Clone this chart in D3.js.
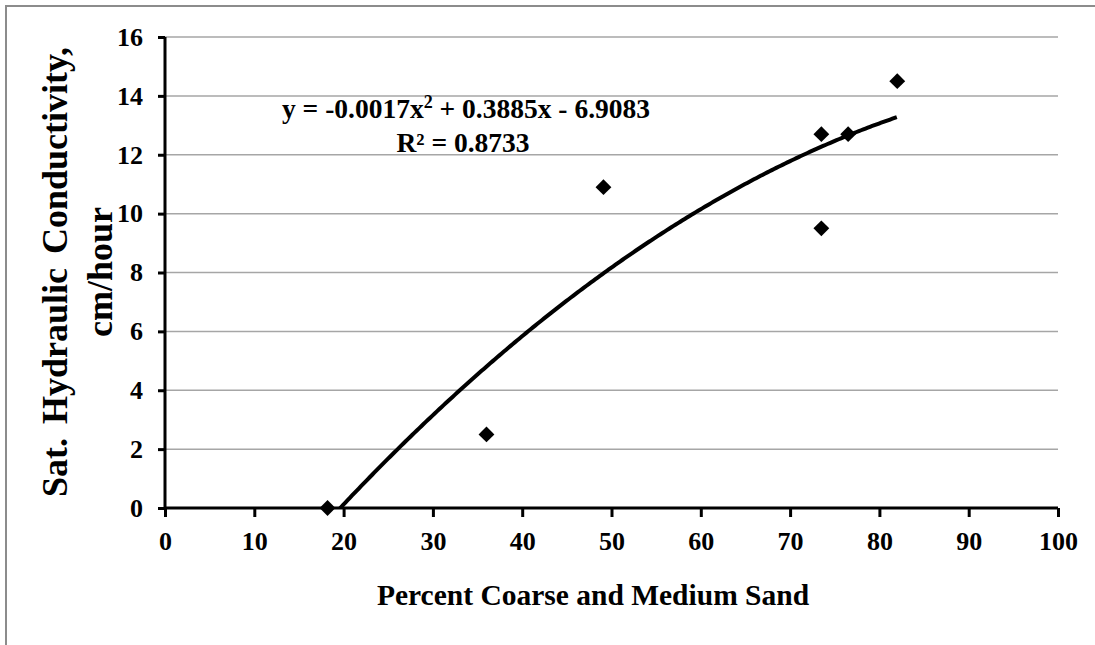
<!DOCTYPE html>
<html>
<head>
<meta charset="utf-8">
<script src="https://cdn.jsdelivr.net/npm/d3@7"></script>
<style>
  body { margin: 0; background: #fff; }
  svg { display: block; font-family: "Liberation Serif", "Times New Roman", serif; }
</style>
</head>
<body>
<svg id="chart" width="1095" height="645"></svg>
<script>
// percent coarse + medium sand vs sat. hydraulic conductivity
var sandPct = [18.2, 36.0, 49.1, 73.5, 73.5, 76.5, 82.0];
var ksat    = [0.0, 2.5, 10.9, 9.5, 12.7, 12.7, 14.5];
var xTicks = [0, 10, 20, 30, 40, 50, 60, 70, 80, 90, 100];
var yTicks = [0, 2, 4, 6, 8, 10, 12, 14, 16];
var eqLine1 = "y = -0.0017x";
var eqLine1b = " + 0.3885x - 6.9083";
var eqLine2 = "R² = 0.8733";

var svg = d3.select("#chart");
var plotL = 165, plotR = 1058, plotT = 37, plotB = 508;

// outer border (top + left only, image is cropped)
svg.append("rect")
  .attr("x", 6).attr("y", 6)
  .attr("width", 1200).attr("height", 800)
  .attr("fill", "none").attr("stroke", "#8c8c8c").attr("stroke-width", 2);

var x = d3.scaleLinear().domain([0, 100]).range([plotL, plotR]);
var y = d3.scaleLinear().domain([0, 16]).range([plotB, plotT]);

// gridlines
svg.append("g").selectAll("line")
  .data(yTicks.filter(function (d) { return d > 0; }))
  .enter().append("line")
  .attr("x1", plotL).attr("x2", plotR)
  .attr("y1", function (d) { return y(d); })
  .attr("y2", function (d) { return y(d); })
  .attr("stroke", "#a6a6a6").attr("stroke-width", 1.5);

svg.append("defs").append("clipPath").attr("id", "plot")
  .append("rect").attr("x", plotL).attr("y", plotT)
  .attr("width", plotR - plotL).attr("height", plotB - plotT);

// quadratic least squares fit (same as the excel trendline)
function fitQuad(xs, ys) {
  var s = [0, 0, 0, 0, 0], t = [0, 0, 0];
  for (var i = 0; i < xs.length; i++) {
    var p = 1;
    for (var k = 0; k < 5; k++) { s[k] += p; if (k < 3) t[k] += p * ys[i]; p *= xs[i]; }
  }
  var m = [[s[0], s[1], s[2], t[0]], [s[1], s[2], s[3], t[1]], [s[2], s[3], s[4], t[2]]];
  for (var c = 0; c < 3; c++) {
    for (var r = c + 1; r < 3; r++) {
      var f = m[r][c] / m[c][c];
      for (var j = c; j < 4; j++) m[r][j] -= f * m[c][j];
    }
  }
  var b = [0, 0, 0];
  for (var r2 = 2; r2 >= 0; r2--) {
    var v = m[r2][3];
    for (var j2 = r2 + 1; j2 < 3; j2++) v -= m[r2][j2] * b[j2];
    b[r2] = v / m[r2][r2];
  }
  return b; // c0 + c1 x + c2 x^2
}
var coef = fitQuad(sandPct, ksat);
var xs = d3.range(d3.min(sandPct), d3.max(sandPct) + 0.01, 0.25);
var line = d3.line()
  .x(function (d) { return x(d); })
  .y(function (d) { return y(coef[0] + coef[1] * d + coef[2] * d * d); });

svg.append("path")
  .datum(xs)
  .attr("clip-path", "url(#plot)")
  .attr("d", line)
  .attr("fill", "none").attr("stroke", "#000").attr("stroke-width", 4);

// axes
var xAxis = svg.append("g")
  .attr("transform", "translate(0," + plotB + ")")
  .call(d3.axisBottom(x).tickValues(xTicks).tickSize(9).tickPadding(15).tickFormat(d3.format("d")));
var yAxis = svg.append("g")
  .attr("transform", "translate(" + plotL + ",0)")
  .call(d3.axisLeft(y).tickValues(yTicks).tickSize(7).tickPadding(15).tickFormat(d3.format("d")));

[xAxis, yAxis].forEach(function (a) {
  a.select(".domain").attr("stroke", "#000").attr("stroke-width", 3);
  a.selectAll(".tick line").attr("stroke", "#000").attr("stroke-width", 3);
  a.selectAll(".tick text")
    .attr("font-family", "'Liberation Serif', 'Times New Roman', serif")
    .attr("font-size", 26).attr("font-weight", "bold").attr("fill", "#000");
});
xAxis.select(".domain").attr("d", "M" + plotL + ",0H" + plotR);
yAxis.select(".domain").attr("d", "M0," + plotB + "V" + plotT);

// markers
svg.append("g").selectAll("path")
  .data(sandPct)
  .enter().append("path")
  .attr("d", d3.symbol().type(d3.symbolDiamond2).size(160))
  .attr("transform", function (d, i) { return "translate(" + x(d) + "," + y(ksat[i]) + ")"; })
  .attr("fill", "#000");

// equation label
var eq = svg.append("text")
  .attr("x", 466).attr("y", 118)
  .attr("text-anchor", "middle")
  .attr("font-size", 27.5).attr("font-weight", "bold");
eq.append("tspan").text(eqLine1);
eq.append("tspan").attr("dy", -10).attr("font-size", 18).text("2");
eq.append("tspan").attr("dy", 10).text(eqLine1b);

svg.append("text")
  .attr("x", 463).attr("y", 152)
  .attr("text-anchor", "middle")
  .attr("font-size", 27.5).attr("font-weight", "bold")
  .text(eqLine2);

// axis titles
svg.append("text")
  .attr("x", 593).attr("y", 605)
  .attr("text-anchor", "middle")
  .attr("font-size", 29.5).attr("font-weight", "bold")
  .text("Percent Coarse and Medium Sand");

var yt = svg.append("text")
  .attr("transform", "translate(67,272) rotate(-90)")
  .attr("text-anchor", "middle")
  .attr("font-size", 36).attr("font-weight", "bold");
yt.append("tspan").attr("x", 0).attr("y", 0).attr("word-spacing", 5).text("Sat. Hydraulic Conductivity,");
yt.append("tspan").attr("x", 0).attr("y", 45).text("cm/hour");
</script>
</body>
</html>
